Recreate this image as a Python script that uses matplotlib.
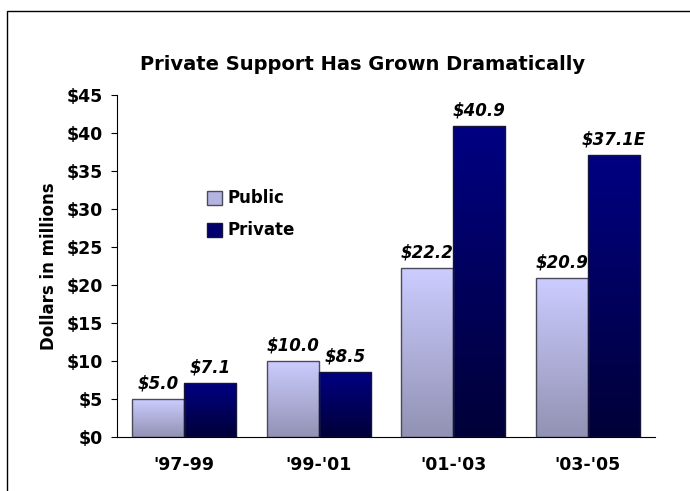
import numpy as np
import matplotlib
matplotlib.use("Agg")
import matplotlib.pyplot as plt
from matplotlib.patches import Patch, Rectangle
from matplotlib.ticker import FuncFormatter, MultipleLocator
from matplotlib.colors import to_rgb

plt.rcParams['font.family'] = ['DejaVu Sans']

periods = ["'97-99", "'99-'01", "'01-'03", "'03-'05"]
public = [5.0, 10.0, 22.2, 20.9]
private = [7.1, 8.5, 40.9, 37.1]
private_labels = ["$7.1", "$8.5", "$40.9", "$37.1E"]

# gradient colours (top, bottom) per series
pub_grad = ("#CCCCFF", "#9292B4")
prv_grad = ("#000082", "#000038")


def grad_img(top, bottom, n=100):
    t = np.linspace(0, 1, n)[:, None]
    c = (1 - t) * np.array(to_rgb(top)) + t * np.array(to_rgb(bottom))
    return c[:, None, :]


fig = plt.figure(figsize=(6.9, 4.91), dpi=100)
ax = fig.add_axes([117 / 690, 1 - 437 / 491, 538 / 690, 342 / 491])

x = np.arange(len(periods))
w = 0.387
b1 = ax.bar(x - w / 2, public, w, facecolor='none', edgecolor='#4a4a5a', lw=1, zorder=3)
b2 = ax.bar(x + w / 2, private, w, facecolor='none', edgecolor='#15153a', lw=1, zorder=3)

for bars, g in ((b1, pub_grad), (b2, prv_grad)):
    img = grad_img(*g)
    for r in bars:
        ax.imshow(img, extent=[r.get_x(), r.get_x() + r.get_width(), 0, r.get_height()],
                  aspect='auto', origin='upper', zorder=2)

lab_kw = dict(ha='center', va='bottom', fontsize=12, fontweight='bold', style='italic')
for r, v in zip(b1, public):
    ax.annotate("\\$%.1f" % v, (r.get_x() + r.get_width() / 2, r.get_height()),
                xytext=(0, 5), textcoords='offset points', **lab_kw)
for r, s in zip(b2, private_labels):
    ax.annotate(s.replace("$", "\\$"), (r.get_x() + r.get_width() / 2, r.get_height()),
                xytext=(0, 5), textcoords='offset points', **lab_kw)

ax.set_xlim(-0.5, 3.5)
ax.set_ylim(0, 45)
ax.yaxis.set_major_locator(MultipleLocator(5))
ax.yaxis.set_major_formatter(FuncFormatter(lambda v, p: "\\$%d" % v))
ax.set_xticks(x)
ax.set_xticklabels(periods)
ax.tick_params(axis='x', length=0, pad=14)
ax.tick_params(axis='y', length=4, direction='out', pad=6)
for lab in ax.get_xticklabels() + ax.get_yticklabels():
    lab.set_fontsize(12.5)
    lab.set_fontweight('bold')
for s in ('top', 'right'):
    ax.spines[s].set_visible(False)
ax.set_ylabel("Dollars in millions", fontsize=12, fontweight='bold', labelpad=6)

fig.text(363 / 690, 1 - 65 / 491, "Private Support Has Grown Dramatically",
         ha='center', va='center', fontsize=14, fontweight='bold')

handles = [Patch(facecolor='#B4B4E0', edgecolor='#4a4a5a'),
           Patch(facecolor='#000070', edgecolor='#15153a')]
fig.legend(handles, ["Public", "Private"], loc='upper left',
           bbox_to_anchor=(199 / 690, 1 - 181 / 491), frameon=False,
           prop=dict(size=12, weight='bold'), borderpad=0, handlelength=0.9,
           handleheight=0.9, handletextpad=0.3, labelspacing=0.85)

fig.add_artist(Rectangle((7 / 690, -0.1), 1.2, 1 - 11 / 491 + 0.1,
                         transform=fig.transFigure, fill=False, lw=1, ec='black'))

fig.savefig("out.png", dpi=100)
